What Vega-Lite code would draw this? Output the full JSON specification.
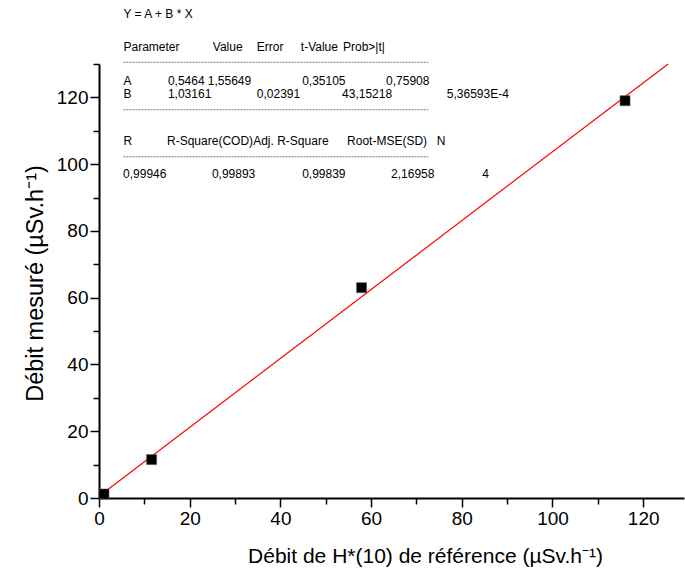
{
  "$schema": "https://vega.github.io/schema/vega-lite/v6.json",
  "width": 585,
  "height": 434,
  "autosize": {"type": "none"},
  "padding": {"left": 99, "top": 64, "right": 1, "bottom": 78},
  "background": "white",
  "config": {
    "view": {"stroke": null},
    "font": "Liberation Sans",
    "axis": {
      "domainColor": "black",
      "domainWidth": 2,
      "tickColor": "black",
      "tickWidth": 1.5,
      "labelColor": "black",
      "titleColor": "black",
      "titleFontWeight": "normal",
      "labelFont": "Liberation Sans",
      "titleFont": "Liberation Sans",
      "labelFlush": false,
      "grid": false
    }
  },
  "encoding": {
    "x": {
      "field": "x",
      "type": "quantitative",
      "scale": {"domain": [0, 129], "nice": false, "zero": false},
      "axis": {
        "values": [0, 10, 20, 30, 40, 50, 60, 70, 80, 90, 100, 110, 120],
        "labelExpr": "datum.value % 20 == 0 ? datum.label : ''",
        "tickSize": {"condition": {"test": "datum.value % 20 == 0", "value": 9}, "value": 6},
        "labelPadding": 2,
        "labelFontSize": 19,
        "title": "Débit de H*(10) de référence (µSv.h⁻¹)",
        "titleFontSize": 21,
        "titleBaseline": "middle",
        "titleX": 326,
        "titleY": 58,
        "titleAnchor": "middle"
      }
    },
    "y": {
      "field": "y",
      "type": "quantitative",
      "scale": {"domain": [0, 130], "nice": false, "zero": false},
      "axis": {
        "values": [0, 10, 20, 30, 40, 50, 60, 70, 80, 90, 100, 110, 120, 130],
        "labelExpr": "datum.value % 20 == 0 && datum.value < 130 ? datum.label : ''",
        "tickSize": {"condition": {"test": "datum.value % 20 == 0", "value": 9}, "value": 6},
        "labelPadding": 2,
        "labelFontSize": 19,
        "title": "Débit mesuré (µSv.h⁻¹)",
        "titleFontSize": 23.5,
        "titleBaseline": "middle",
        "titleX": -64,
        "titleY": 219,
        "titleAnchor": "middle"
      }
    }
  },
  "layer": [
    {
      "data": {"values": [{"x": 0, "y": 0.5464}, {"x": 125.49, "y": 130}]},
      "mark": {"type": "line", "color": "#ff0000", "strokeWidth": 1.2},
      "encoding": {}
    },
    {
      "data": {"values": [
        {"x": 1.1, "y": 1.2},
        {"x": 11.6, "y": 11.5},
        {"x": 57.9, "y": 63.0},
        {"x": 116.0, "y": 119.0}
      ]},
      "mark": {"type": "point", "shape": "square", "filled": true, "size": 100, "color": "black", "stroke": "#555555", "strokeWidth": 0.6, "opacity": 1},
      "encoding": {}
    },
    {
      "data": {"values": [
        {"x": 5.4, "x2": 72.6, "y": 130.5},
        {"x": 5.4, "x2": 72.6, "y": 116.3},
        {"x": 5.4, "x2": 72.6, "y": 102.2}
      ]},
      "mark": {"type": "rule", "color": "#555555", "strokeWidth": 0.8, "strokeDash": [2, 1]},
      "encoding": {"x2": {"field": "x2"}}
    },
    {
      "data": {"values": [
        {"x": 5.4, "y": 145.0, "t": "Y = A + B * X"},
        {"x": 5.4, "y": 135.2, "t": "Parameter"},
        {"x": 25.1, "y": 135.2, "t": "Value"},
        {"x": 34.8, "y": 135.2, "t": "Error"},
        {"x": 44.5, "y": 135.2, "t": "t-Value"},
        {"x": 53.8, "y": 135.2, "t": "Prob>|t|"},
        {"x": 5.4, "y": 125.0, "t": "A"},
        {"x": 15.2, "y": 125.0, "t": "0,5464"},
        {"x": 24.0, "y": 125.0, "t": "1,55649"},
        {"x": 44.8, "y": 125.0, "t": "0,35105"},
        {"x": 63.3, "y": 125.0, "t": "0,75908"},
        {"x": 5.4, "y": 121.1, "t": "B"},
        {"x": 15.2, "y": 121.1, "t": "1,03161"},
        {"x": 34.8, "y": 121.1, "t": "0,02391"},
        {"x": 53.6, "y": 121.1, "t": "43,15218"},
        {"x": 76.7, "y": 121.1, "t": "5,36593E-4"},
        {"x": 5.4, "y": 106.8, "t": "R"},
        {"x": 15.0, "y": 106.8, "t": "R-Square(COD)"},
        {"x": 34.0, "y": 106.8, "t": "Adj. R-Square"},
        {"x": 54.7, "y": 106.8, "t": "Root-MSE(SD)"},
        {"x": 74.5, "y": 106.8, "t": "N"},
        {"x": 5.3, "y": 97.2, "t": "0,99946"},
        {"x": 24.9, "y": 97.2, "t": "0,99893"},
        {"x": 44.8, "y": 97.2, "t": "0,99839"},
        {"x": 64.4, "y": 97.2, "t": "2,16958"},
        {"x": 84.5, "y": 97.2, "t": "4"}
      ]},
      "mark": {"type": "text", "align": "left", "baseline": "middle", "fontSize": 12, "font": "Liberation Sans", "color": "black"},
      "encoding": {"text": {"field": "t"}}
    }
  ]
}
